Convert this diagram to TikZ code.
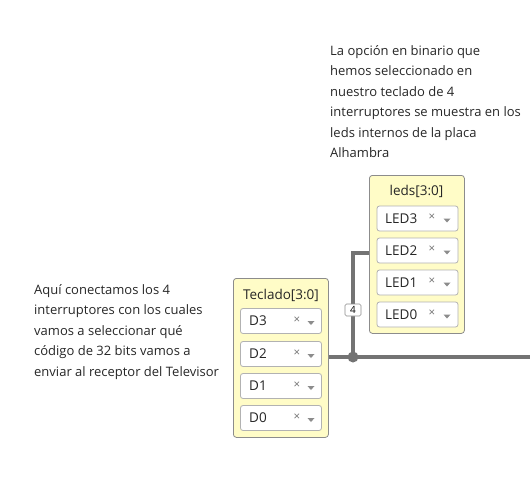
\documentclass[tikz,border=0pt]{standalone}
\usepackage{fontspec}
\setmainfont{Open Sans}
\begin{document}
\begin{tikzpicture}[x=1pt,y=-1pt,
  blk/.style={draw=black!45,fill=yellow!22,rounded corners=3pt,line width=0.8pt},
  fld/.style={draw=black!30,fill=white,rounded corners=2.5pt,line width=0.8pt,minimum width=81pt,minimum height=25pt,inner sep=0pt},
  ttl/.style={font=\fontsize{13.5}{15}\selectfont,text=black!85},
  lbl/.style={font=\fontsize{13.5}{15}\selectfont,text=black!85,anchor=west,inner sep=0pt},
  xm/.style={font=\fontsize{11.5}{12}\selectfont,text=black!55},
  ann/.style={font=\fontsize{13}{20.5}\selectfont,text=black!85,align=left,anchor=north west,inner sep=0pt},
  wire/.style={draw=black!55,line width=4.5pt},
  tri/.style={fill=black!45}]
\useasboundingbox (0,0) rectangle (530,488);
% annotations
\node[ann] (annTop) at (330,45) {La opción en binario que\\hemos seleccionado en\\nuestro teclado de 4\\interruptores se muestra en los\\leds internos de la placa\\Alhambra};
\node[ann] (annLeft) at (34,284) {Aquí conectamos los 4\\interruptores con los cuales\\vamos a seleccionar qué\\código de 32 bits vamos a\\enviar al receptor del Televisor};
% coordinates
\coordinate (j) at (353,357);
\coordinate (wend) at (532,357);
\coordinate (bend) at (353,253);
% blocks
\node[blk,minimum width=95pt,minimum height=159pt,anchor=north west] (tec) at (233,278) {};
\node[blk,minimum width=95pt,minimum height=158pt,anchor=north west] (leds) at (369,175) {};
% wires
\draw[wire] (tec.east |- j) -- (j) -- (wend);
\draw[wire,line cap=butt] (j) -- (bend) -- (leds.west |- bend);
\fill[black!55] (j) circle (5.5pt);
\node[draw=black!45,fill=white,rounded corners=1.5pt,inner sep=0pt,minimum width=16pt,minimum height=12pt,font=\fontsize{10}{10}\selectfont,line width=0.6pt] (w4) at (353,310) {4};
% Teclado
\node[ttl] (tect) at (281,295) {Teclado[3:0]};
\foreach \n/\y in {D3/321,D2/354,D1/386,D0/418}{
  \node[fld] (f\n) at (281,\y) {};
  \node[lbl] (l\n) at (249,\y) {\n};
  \node[xm] (x\n) at (297,\y-1) {×};
  \fill[tri] (307.5,\y) -- (314.5,\y) -- (311,\y+4) -- cycle;
}
% leds
\node[ttl] (ledt) at (416.5,191) {leds[3:0]};
\foreach \n/\y in {LED3/218.5,LED2/250.5,LED1/282.5,LED0/314.5}{
  \node[fld] (f\n) at (417.5,\y) {};
  \node[lbl] (l\n) at (385,\y) {\n};
  \node[xm] (x\n) at (432,\y-1) {×};
  \fill[tri] (443.5,\y) -- (450.5,\y) -- (447,\y+4) -- cycle;
}
\end{tikzpicture}
\end{document}
